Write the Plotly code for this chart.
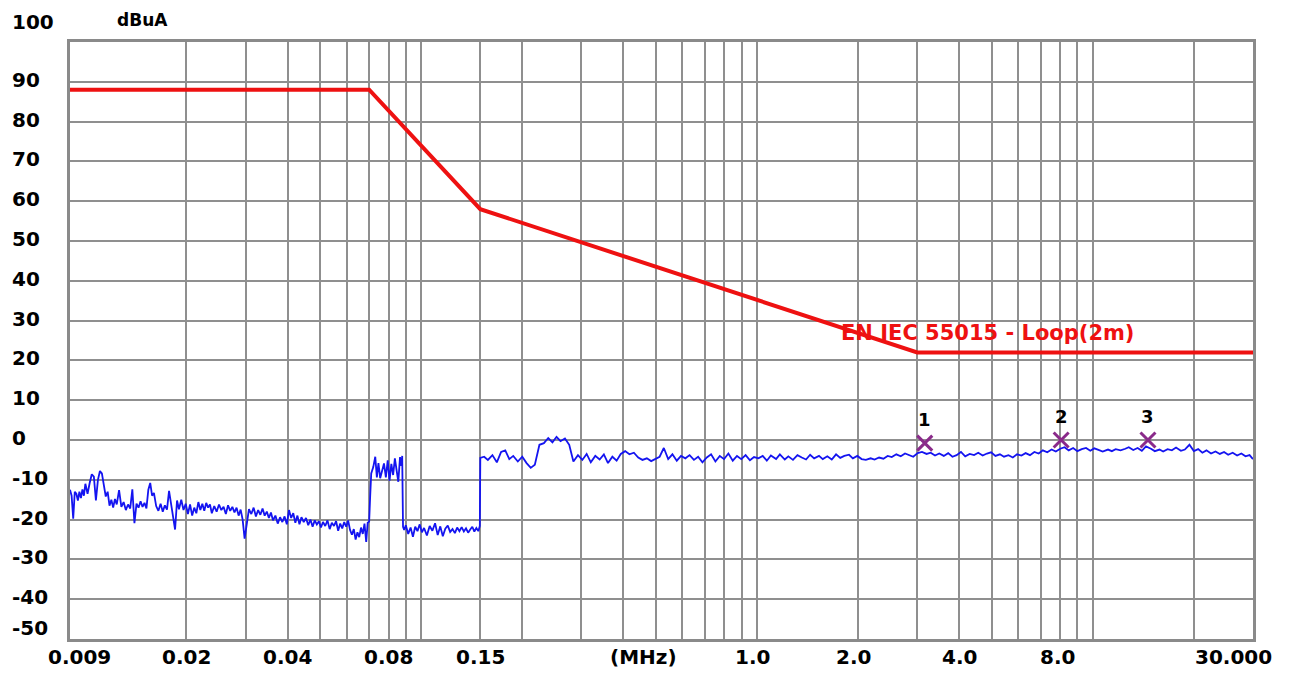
import math
import plotly.graph_objects as go

# ---------------- data ----------------
# Measured trace, band A (9 kHz - 70 kHz), frequencies in kHz, levels in dBuA
seg_a_khz = [9.0, 9.1, 9.2, 9.3, 9.4, 9.5, 9.6, 9.7, 9.8, 9.9,
             10.0, 10.15, 10.3, 10.45, 10.6, 10.75, 10.9, 11.05, 11.2, 11.35, 11.5, 11.65,
             11.8, 11.95, 12.1, 12.25, 12.4,
             12.6, 12.8, 13.0, 13.2, 13.4, 13.6, 13.8, 14.0, 14.2, 14.4, 14.6, 14.8, 15.0,
             15.2, 15.4, 15.6, 15.8, 16.0,
             16.25, 16.5, 16.75, 17.0, 17.25, 17.5, 17.75, 18.0, 18.25, 18.5, 18.75, 19.0,
             19.3, 19.6, 19.9, 20.2, 20.5, 20.8, 21.1, 21.4, 21.7, 22.0, 22.3, 22.6, 22.9,
             23.2, 23.5, 23.8,
             24.2, 24.6, 25.0, 25.4, 25.8, 26.2, 26.6, 27.0, 27.4, 27.8, 28.2, 28.6, 29.0,
             29.4, 29.8, 30.2,
             30.7, 31.2, 31.7, 32.2, 32.7, 33.2, 33.7, 34.2, 34.7, 35.2, 35.7, 36.2,
             36.8, 37.4, 38.0, 38.6, 39.2, 39.8, 40.4, 41.0, 41.6, 42.2, 42.8, 43.4, 44.0,
             44.7, 45.4, 46.1, 46.8, 47.5, 48.2, 48.9, 49.6, 50.3, 51.0,
             51.8, 52.6, 53.4, 54.2, 55.0, 55.8, 56.6, 57.4, 58.2, 59.0, 59.8, 60.6, 61.4,
             62.2, 63.0, 63.8, 64.6, 65.4, 66.2, 67.0, 67.8, 68.6, 69.3]
seg_a_dbua = [-12.5, -14.0, -19.8, -13.0, -13.5, -15.2, -13.0, -14.6, -12.4, -14.0,
              -11.0, -13.5, -10.8, -8.6, -9.2, -15.2, -10.0, -7.8, -8.4, -12.0, -14.2, -13.0,
              -16.5, -15.0, -17.0, -14.8, -16.2,
              -12.6, -16.8, -15.6, -17.6, -16.2, -17.2, -12.4, -20.9, -16.0, -17.0, -15.4,
              -16.8, -15.8, -17.2, -12.5, -10.8, -14.0, -13.3,
              -16.6, -17.8, -16.0, -18.0, -16.4, -17.5, -12.8, -16.5, -19.5, -22.5, -15.2,
              -17.4, -15.0, -17.6, -16.0, -18.6, -16.2, -19.0, -17.0, -18.4, -15.6, -17.6,
              -16.0, -17.8, -15.8, -17.0, -16.2, -18.4,
              -16.6, -18.0, -16.2, -17.6, -16.8, -18.6, -16.4, -17.8, -16.8, -18.2, -17.0,
              -19.0, -17.5, -20.0, -24.8, -21.0,
              -17.4, -18.6, -17.0, -19.2, -17.6, -18.8, -17.2, -19.0, -18.0, -19.6, -18.2,
              -20.2,
              -19.0, -21.0, -19.4, -20.6, -19.2, -21.2, -17.6, -19.6, -18.4, -20.8, -19.0,
              -21.2, -19.4,
              -20.6, -19.6, -21.4, -20.0, -21.8, -20.2, -21.2, -20.4, -22.0, -20.6,
              -21.6, -20.2, -22.4, -20.8, -21.6, -20.4, -22.8, -21.0, -22.2, -20.6, -21.8,
              -20.2, -22.6, -23.8, -22.4, -25.0, -23.2, -24.4, -22.0, -23.6, -21.0, -25.6,
              -20.8]

# band A, raised part (70 kHz - 88 kHz)
seg_b_khz = [70.0, 70.5, 71.0, 72.0, 73.0, 73.8, 74.6, 75.5, 76.5, 77.5, 78.5, 79.5, 80.5,
             81.5, 82.5, 83.5, 84.5, 85.5, 86.5, 87.3, 87.8]
seg_b_dbua = [-20.5, -14.0, -8.4, -6.8, -4.2, -9.4, -5.8, -9.6, -7.9, -5.9, -9.4, -5.1,
              -10.2, -6.0, -8.8, -4.6, -7.6, -10.5, -4.3, -6.5, -4.0]

# band A, low part (88 kHz - 150 kHz)
seg_c_khz = [88.3, 89.0, 90.0, 91.5, 93.0, 94.5, 96.0, 97.5, 99.0, 100.5, 102.0, 104.0,
             106.0, 108.0, 110.0, 112.0, 114.0, 116.0, 118.0, 120.0, 122.0, 124.0, 126.0,
             128.0, 130.0, 132.0, 134.0, 136.0, 138.0, 140.0, 142.0, 144.0, 146.0, 148.0,
             149.5]
seg_c_dbua = [-21.8, -22.6, -21.4, -23.6, -22.0, -24.3, -21.8, -22.9, -21.2, -23.2, -22.1,
              -24.0, -21.6, -22.8, -20.9, -23.9, -21.7, -24.2, -22.3, -21.5, -23.1, -22.4,
              -23.4, -22.0, -22.9, -21.9, -23.0, -22.2, -23.3, -22.5, -21.8, -23.0, -22.1,
              -22.9, -21.6]

# band B (150 kHz - 30 MHz), frequencies in MHz
seg_d_mhz = [0.150, 0.154, 0.158, 0.163, 0.168, 0.173, 0.178, 0.183, 0.188, 0.194, 0.200,
             0.206, 0.212, 0.218, 0.225, 0.232, 0.239, 0.246, 0.253, 0.260, 0.268, 0.276,
             0.284, 0.293, 0.302, 0.311, 0.320, 0.330, 0.340, 0.350, 0.360, 0.371, 0.382,
             0.393, 0.405, 0.417, 0.430, 0.443, 0.456, 0.470, 0.484, 0.498, 0.513, 0.528,
             0.544, 0.560, 0.577, 0.594, 0.612, 0.630, 0.649, 0.668, 0.688, 0.709, 0.730,
             0.752, 0.775, 0.798, 0.822, 0.847, 0.872, 0.898, 0.925, 0.953, 0.98, 1.01,
             1.04, 1.07, 1.10, 1.14, 1.17, 1.21, 1.24, 1.28, 1.32, 1.36, 1.40, 1.44, 1.48,
             1.53, 1.57, 1.62, 1.67, 1.72, 1.77, 1.82, 1.88, 1.93, 1.99, 2.05, 2.11, 2.18,
             2.24, 2.31, 2.38, 2.45, 2.52, 2.60, 2.68, 2.76, 2.84, 2.92, 3.01, 3.10, 3.20,
             3.29, 3.39, 3.49, 3.60, 3.71, 3.82, 3.93, 4.05, 4.17, 4.30, 4.43, 4.56, 4.70,
             4.84, 4.98, 5.13, 5.29, 5.44, 5.61, 5.78, 5.95, 6.13, 6.31, 6.50, 6.70, 6.90,
             7.10, 7.32, 7.54, 7.76, 8.00, 8.24, 8.48, 8.74, 9.00, 9.27, 9.55, 9.83, 10.1,
             10.4, 10.7, 11.1, 11.4, 11.7, 12.1, 12.5, 12.8, 13.2, 13.6, 14.0, 14.4, 14.9,
             15.3, 15.8, 16.2, 16.7, 17.2, 17.7, 18.3, 18.8, 19.4, 20.0, 20.6, 21.2, 21.8,
             22.5, 23.2, 23.9, 24.6, 25.3, 26.1, 26.9, 27.7, 28.5, 29.3, 30.0]
seg_d_dbua = [-4.5, -4.2, -5.0, -3.8, -5.6, -3.0, -2.6, -4.8, -4.0, -5.4, -4.2, -5.8, -7.0,
              -6.2, -1.2, -0.8, 0.5, -0.6, 0.8, -0.3, 0.4, -1.2, -5.4, -3.8, -5.0, -3.5,
              -5.6, -4.0, -4.9, -3.6, -5.8, -4.2, -5.2, -3.5, -2.8, -3.6, -3.2, -4.4, -5.0,
              -4.6, -5.3, -4.8, -4.2, -2.0, -4.8, -3.6, -5.2, -4.0, -4.6, -3.8, -5.0, -4.2,
              -5.6, -4.4, -3.6, -5.4, -4.0, -4.8, -3.4, -5.2, -4.0, -4.8, -3.8, -5.1, -4.3,
              -4.6, -4.0, -5.2, -3.9, -4.8, -3.6, -4.9, -4.1, -5.0, -3.8, -4.4, -4.9, -3.7,
              -4.6, -4.0, -4.8, -4.1, -4.9, -3.6, -4.5, -4.0, -3.7, -4.6, -4.0, -4.8, -5.0,
              -4.6, -4.9, -4.4, -4.7, -4.0, -4.3, -3.6, -4.1, -3.4, -3.9, -4.2, -3.3, -3.0,
              -3.5, -3.2, -3.9, -3.4, -4.0, -3.3, -4.2, -3.8, -3.0, -4.1, -3.5, -3.8, -3.2,
              -3.9, -3.4, -3.1, -4.0, -3.6, -4.2, -3.8, -4.4, -3.6, -3.9, -3.3, -3.8, -3.0,
              -3.4, -2.6, -3.1, -2.4, -2.9, -2.2, -1.8, -2.6, -2.0, -2.8, -2.3, -2.0, -2.7,
              -2.1, -2.5, -2.9, -2.4, -2.8, -2.3, -2.6, -2.2, -1.8, -2.5, -2.0, -2.7, -1.6,
              -2.2, -2.8, -2.4, -2.9, -2.3, -2.6, -1.9, -2.7, -2.4, -1.2, -2.8, -2.3, -3.2,
              -2.6, -3.4, -2.9, -3.5, -3.0, -3.7, -3.2, -3.9, -3.4, -4.1, -3.8, -4.8]

# limit line EN IEC 55015 - Loop(2m)
limit_mhz = [0.009, 0.07, 0.15, 3.0, 30.0]
limit_dbua = [88, 88, 58, 22, 22]
limit_name = "EN IEC 55015 - Loop(2m)"

# peak markers
marker_mhz = [3.16, 8.05, 14.6]
marker_dbua = [-0.8, 0.0, 0.0]
marker_labels = ["1", "2", "3"]

# axes
x_grid_mhz = [0.02, 0.03, 0.04, 0.05, 0.06, 0.07, 0.08, 0.09, 0.1, 0.15, 0.2, 0.3, 0.4,
              0.5, 0.6, 0.7, 0.8, 0.9, 1.0, 2.0, 3.0, 4.0, 5.0, 6.0, 7.0, 8.0, 9.0, 10.0,
              20.0]
x_label_mhz = [0.009, 0.02, 0.04, 0.08, 0.15, 1.0, 2.0, 4.0, 8.0, 30.0]
x_label_text = ["0.009", "0.02", "0.04", "0.08", "0.15", "1.0", "2.0", "4.0", "8.0", "30.000"]
x_label_shift = [9, 0, 0, 0, 0, -4, -5, 0, -3, -20]
y_grid = [-40, -30, -20, -10, 0, 10, 20, 30, 40, 50, 60, 70, 80, 90]
y_label_vals = [100, 90, 80, 70, 60, 50, 40, 30, 20, 10, 0, -10, -20, -30, -40, -50]
y_unit = "dBuA"
x_unit = "(MHz)"

# ---------------- figure ----------------
trace_mhz = ([f / 1000 for f in seg_a_khz] + [f / 1000 for f in seg_b_khz]
             + [f / 1000 for f in seg_c_khz] + seg_d_mhz)
trace_dbua = seg_a_dbua + seg_b_dbua + seg_c_dbua + seg_d_dbua

FONT = "DejaVu Sans"
W, H = 1290, 673
ML, MR, MT, MB = 70, 37, 42, 34

fig = go.Figure()
fig.add_trace(go.Scatter(x=trace_mhz, y=trace_dbua, mode="lines",
                         line=dict(color="#1414f0", width=1.8), hoverinfo="skip",
                         showlegend=False))
fig.add_trace(go.Scatter(x=limit_mhz, y=limit_dbua, mode="lines",
                         line=dict(color="#ee1111", width=4), showlegend=False))
fig.add_trace(go.Scatter(x=marker_mhz, y=marker_dbua, mode="markers",
                         marker=dict(symbol="x-thin", size=15,
                                     line=dict(color="#8a2a8a", width=3)),
                         showlegend=False))

ann = []
for f, v, t in zip(marker_mhz, marker_dbua, marker_labels):
    ann.append(dict(x=math.log10(f), y=v, xref="x", yref="y", text=t, showarrow=False,
                    yshift=24, font=dict(family=FONT, size=18, color="black", weight="bold")))

ann.append(dict(x=math.log10(1.76), y=26.8, xref="x", yref="y", text=limit_name,
                showarrow=False, xanchor="left", yanchor="middle",
                font=dict(family=FONT, size=21, color="#ee1111", weight="bold")))

plot_w = W - ML - MR
for v in y_label_vals:
    shift = 2
    if v == 100:
        shift = 20
    elif v == -50:
        shift = 11
    ann.append(dict(x=(10 - ML) / plot_w, y=v, xref="paper", yref="y", text=str(v),
                    showarrow=False, xanchor="left", yanchor="middle", yshift=shift,
                    font=dict(family=FONT, size=20, color="black", weight="bold")))

for f, t, s in zip(x_label_mhz, x_label_text, x_label_shift):
    ann.append(dict(x=math.log10(f), y=0, xref="x", yref="paper", text=t, showarrow=False,
                    xanchor="center", yanchor="middle", yshift=-18, xshift=s,
                    font=dict(family=FONT, size=20, color="black", weight="bold")))

ann.append(dict(x=(643 - ML) / plot_w, y=0, xref="paper", yref="paper", text=x_unit,
                showarrow=False, xanchor="center", yanchor="middle", yshift=-18,
                font=dict(family=FONT, size=20, color="black", weight="bold")))
ann.append(dict(x=(115 - ML) / plot_w, y=1, xref="paper", yref="paper", text=y_unit,
                showarrow=False, xanchor="left", yanchor="middle", yshift=22,
                font=dict(family=FONT, size=17, color="black", weight="bold")))

fig.update_layout(
    width=W, height=H,
    margin=dict(l=ML, r=MR, t=MT, b=MB),
    paper_bgcolor="white", plot_bgcolor="white",
    showlegend=False,
    annotations=ann,
    xaxis=dict(type="log", range=[math.log10(0.009), math.log10(30)],
               tickvals=x_grid_mhz, showticklabels=False, ticks="",
               showgrid=True, gridcolor="#8f8f8f", gridwidth=1.6, zeroline=False,
               showline=True, mirror=True, linecolor="#8a8a8a", linewidth=3),
    yaxis=dict(range=[-50, 100], tickvals=y_grid, showticklabels=False, ticks="",
               showgrid=True, gridcolor="#8f8f8f", gridwidth=1.6, zeroline=False,
               showline=True, mirror=True, linecolor="#8a8a8a", linewidth=3),
)

fig.write_html("out.html")
